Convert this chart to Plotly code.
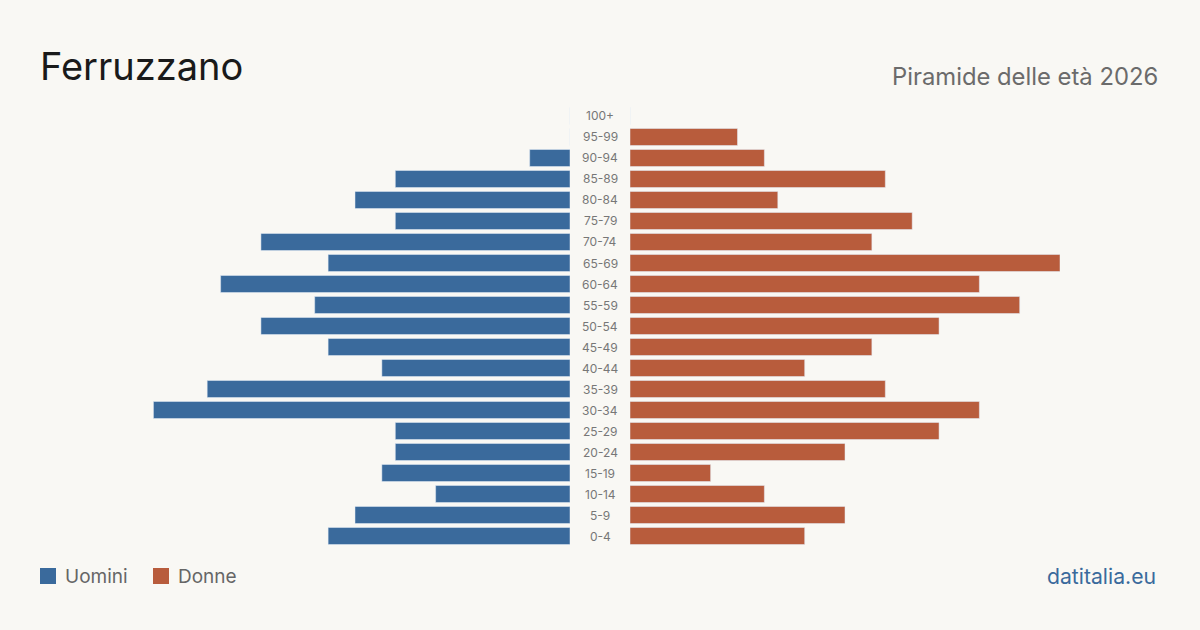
import plotly.graph_objects as go

age_groups = ["0-4", "5-9", "10-14", "15-19", "20-24", "25-29", "30-34", "35-39",
              "40-44", "45-49", "50-54", "55-59", "60-64", "65-69", "70-74",
              "75-79", "80-84", "85-89", "90-94", "95-99", "100+"]
men = [18, 16, 10, 14, 13, 13, 31, 27, 14, 18, 23, 19, 26, 18, 23, 13, 16, 13, 3, 0, 0]
women = [13, 16, 10, 6, 16, 23, 26, 19, 13, 18, 23, 29, 26, 32, 18, 21, 11, 19, 10, 8, 0]

BLUE = "#3a6a9c"
ORANGE = "#b85c3c"
BG = "#f9f8f4"
W, H = 1200, 630
XMAX = 32

idx = list(range(len(age_groups)))

fig = go.Figure()
fig.add_trace(go.Bar(x=men, y=idx, orientation="h", marker_color=BLUE, name="Uomini",
                     xaxis="x", yaxis="y", hovertemplate="%{customdata}: %{x}<extra>Uomini</extra>",
                     customdata=age_groups))
fig.add_trace(go.Bar(x=women, y=idx, orientation="h", marker_color=ORANGE, name="Donne",
                     xaxis="x2", yaxis="y", hovertemplate="%{customdata}: %{x}<extra>Donne</extra>",
                     customdata=age_groups))

ytop, ybot = 105.5, 546.5
ydom = [(H - ybot) / H, (H - ytop) / H]

font_family = "Inter, 'Noto Sans', sans-serif"

annotations = []
for i, lab in enumerate(age_groups):
    annotations.append(dict(x=600 / W, xref="paper", y=i, yref="y", text=lab, showarrow=False,
                            xanchor="center", yanchor="middle",
                            font=dict(size=12, color="#777777", family=font_family)))

annotations += [
    dict(x=38 / W, y=1 - 66 / H, xref="paper", yref="paper", text="Ferruzzano", showarrow=False,
         xanchor="left", yanchor="middle", font=dict(size=38, color="#1a1a1a", family=font_family)),
    dict(x=1160 / W, y=1 - 76 / H, xref="paper", yref="paper", text="Piramide delle età 2026",
         showarrow=False, xanchor="right", yanchor="middle",
         font=dict(size=23.8, color="#6b6b6b", family=font_family)),
    dict(x=1158 / W, y=1 - 576 / H, xref="paper", yref="paper", text="datitalia.eu",
         showarrow=False, xanchor="right", yanchor="middle",
         font=dict(size=21.2, color=BLUE, family=font_family)),
    dict(x=63 / W, y=1 - 576 / H, xref="paper", yref="paper", text="Uomini",
         showarrow=False, xanchor="left", yanchor="middle",
         font=dict(size=19, color="#666666", family=font_family)),
    dict(x=176 / W, y=1 - 576 / H, xref="paper", yref="paper", text="Donne",
         showarrow=False, xanchor="left", yanchor="middle",
         font=dict(size=19, color="#666666", family=font_family)),
]

shapes = [
    dict(type="rect", xref="paper", yref="paper", x0=40 / W, x1=56 / W,
         y0=1 - 584 / H, y1=1 - 568 / H, fillcolor=BLUE, line=dict(width=0)),
    dict(type="rect", xref="paper", yref="paper", x0=153 / W, x1=169 / W,
         y0=1 - 584 / H, y1=1 - 568 / H, fillcolor=ORANGE, line=dict(width=0)),
]

fig.update_layout(
    width=W, height=H,
    margin=dict(l=0, r=0, t=0, b=0),
    paper_bgcolor=BG, plot_bgcolor=BG,
    showlegend=False,
    bargap=0.19,
    xaxis=dict(domain=[140 / W, 570 / W], range=[XMAX, 0], visible=False, fixedrange=True),
    xaxis2=dict(domain=[630 / W, 1060 / W], range=[0, XMAX], visible=False, fixedrange=True),
    yaxis=dict(domain=ydom, range=[-0.5, len(age_groups) - 0.5], visible=False, fixedrange=True),
    annotations=annotations,
    shapes=shapes,
    font=dict(family=font_family),
)

fig.write_html("out.html")
